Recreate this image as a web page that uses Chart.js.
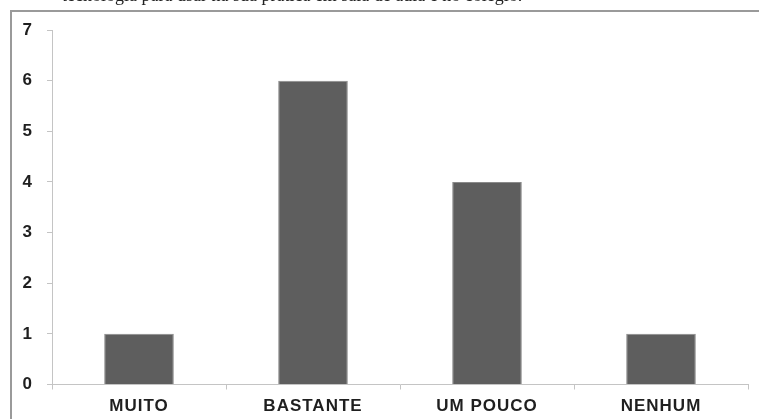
<!DOCTYPE html>
<html>
<head>
<meta charset="utf-8">
<script src="https://cdn.jsdelivr.net/npm/chart.js@4"></script>
<style>
  html, body { margin: 0; padding: 0; background: #fff; }
  #wrap { position: relative; width: 759px; height: 419px; }
</style>
</head>
<body>
<div id="wrap"><canvas id="c" width="759" height="419"></canvas></div>
<script>
// Categories and counts
const categories = ['MUITO', 'BASTANTE', 'UM POUCO', 'NENHUM'];
const counts = [1, 6, 4, 1];
const yTickLabels = ['0', '1', '2', '3', '4', '5', '6', '7'];
const caption = 'tecnologia para usar na sua prática em sala de aula e no colégio.';

// Frame around the plot and the caption line above it
const framePlugin = {
  id: 'frame',
  beforeDraw(chart) {
    const ctx = chart.ctx;
    ctx.save();
    ctx.fillStyle = '#fff';
    ctx.fillRect(0, 0, chart.width, chart.height);
    ctx.strokeStyle = '#9a9a9a';
    ctx.lineWidth = 2;
    ctx.beginPath();
    ctx.moveTo(11, chart.height + 5);
    ctx.lineTo(11, 11);
    ctx.lineTo(chart.width + 5, 11);
    ctx.stroke();
    ctx.restore();
    // slightly wider letter spacing for the axis labels
    if ('letterSpacing' in ctx) ctx.letterSpacing = '1px';
  },
  afterDraw(chart) {
    const ctx = chart.ctx;
    ctx.save();
    if ('letterSpacing' in ctx) ctx.letterSpacing = '0px';
    ctx.font = '18px "Liberation Serif", "Times New Roman", serif';
    ctx.fillStyle = '#222';
    ctx.textBaseline = 'alphabetic';
    ctx.fillText(caption, 62, 0.5);
    ctx.restore();
  }
};

const labelFont = { family: '"Liberation Sans", Arial, sans-serif', size: 17, weight: 'bold' };

new Chart(document.getElementById('c'), {
  type: 'bar',
  data: {
    labels: categories,
    datasets: [{
      data: counts,
      backgroundColor: '#5e5e5e',
      borderColor: '#8a8a8a',
      borderWidth: 1,
      barPercentage: 0.4,
      categoryPercentage: 1.0
    }]
  },
  options: {
    responsive: false,
    animation: false,
    devicePixelRatio: 1,
    layout: { padding: { left: 0, top: 30, right: 11, bottom: 0 } },
    plugins: { legend: { display: false }, tooltip: { enabled: false } },
    scales: {
      x: {
        grid: {
          display: true,
          drawOnChartArea: false,
          offset: true,
          color: '#c4c4c4',
          tickLength: 5
        },
        border: { color: '#c4c4c4', width: 1 },
        ticks: {
          color: '#1f1f1f',
          font: labelFont,
          padding: 7,
          maxRotation: 0
        },
        afterFit(s) { s.height = 34.5; }
      },
      y: {
        min: 0,
        max: 7,
        grid: {
          display: true,
          drawOnChartArea: false,
          color: '#c4c4c4',
          tickLength: 5
        },
        border: { color: '#c4c4c4', width: 1 },
        ticks: {
          stepSize: 1,
          color: '#1f1f1f',
          font: labelFont,
          padding: 14,
          callback: (v) => yTickLabels[v]
        },
        afterFit(s) { s.width = 52; }
      }
    }
  },
  plugins: [framePlugin]
});
</script>
</body>
</html>
